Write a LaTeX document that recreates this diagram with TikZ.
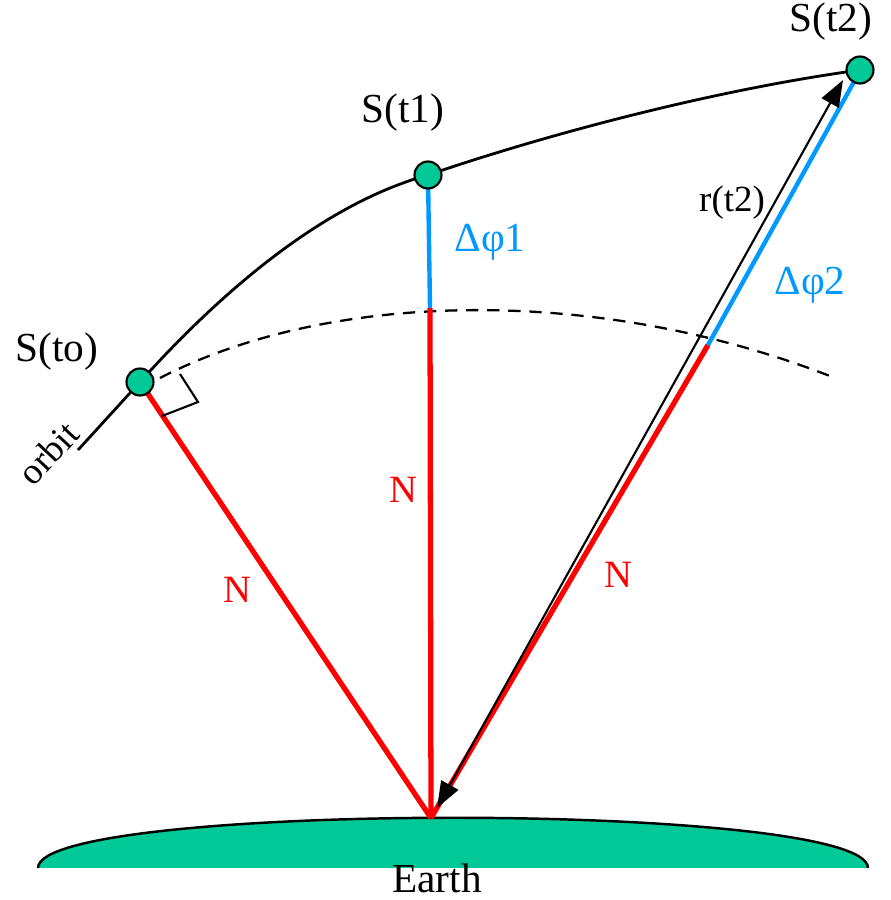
\documentclass[tikz,border=0pt]{standalone}
\usepackage{fontspec}
\setmainfont{Liberation Serif}
\usetikzlibrary{arrows.meta,calc}
\definecolor{earthgreen}{RGB}{0,200,150}
\definecolor{phiblue}{RGB}{0,153,255}
\definecolor{nred}{RGB}{255,0,0}
\newlength{\unitpx}
\setlength{\unitpx}{0.02cm}
\tikzset{
  sat/.style={circle,draw=black,fill=earthgreen,line width=1.2pt,minimum size=27\unitpx,inner sep=0pt},
  orbitline/.style={line width=1.6pt,black},
  nline/.style={line width=3pt,nred},
  philine/.style={line width=2.5pt,phiblue},
  lbl/.style={font=\fontsize{23.5}{28}\selectfont,inner sep=0pt},
  smalllbl/.style={font=\fontsize{21}{25}\selectfont,inner sep=0pt},
  nlbl/.style={font=\fontsize{22}{26}\selectfont,inner sep=0pt,text=nred},
  philbl/.style={font=\fontsize{23.5}{28}\selectfont,inner sep=0pt,text=phiblue},
}
\begin{document}
\begin{tikzpicture}[x=0.02cm,y=-0.02cm]
\useasboundingbox (0,0) rectangle (891,900);
% Earth
\fill[earthgreen] (38,868) .. controls (38,801) and (868,801) .. (868,868) -- cycle;
\draw[line width=1.4pt] (38,868) .. controls (38,801) and (868,801) .. (868,868);
\coordinate (e) at (431,818);
% dashed curve
\draw[line width=1.3pt,dash pattern=on 7pt off 5pt] (160,378) .. controls (330,290) and (600,285) .. (835,378);
% satellites positions
\coordinate (c0) at (140,382);
\coordinate (c1) at (428,175);
\coordinate (c2) at (860,70);
\coordinate (tail) at (78,450);
% orbit
\draw[orbitline] (tail) -- (c0) .. controls (230,282) and (330,202) .. (c1) .. controls (530,140) and (700,92) .. (c2);
% break points
\coordinate (d1) at (430,308);
\coordinate (d2) at (708,345);
\coordinate (b2) at (855,80);
% N and phi lines
\draw[nline] (d1) -- (e);
\draw[nline] (d2) -- (e);
\draw[nline] (c0) -- (e);
\draw[philine] (c1) -- (d1);
\draw[philine] (b2) -- (d2);
% arrow r(t2)
\coordinate (a1) at (437,808);
\coordinate (a2) at (843,80);
\draw[line width=1.2pt,{Triangle[length=15pt,width=11pt]}-{Triangle[length=15pt,width=11pt]}] (a1) -- (a2);
% right angle marker
\draw[line width=1.2pt] (180,374) -- (198,402) -- (162,416);
% satellites
\node[sat] (s0) at (c0) {};
\node[sat] (s1) at (c1) {};
\node[sat] (s2) at (c2) {};
% labels
\node[lbl] (l0) at (57,352) {S(to)};
\node[lbl] (l1) at (403,113) {S(t1)};
\node[lbl] (l2) at (831,22) {S(t2)};
\node[philbl] (p1) at (490,242) {Δφ1};
\node[philbl] (p2) at (810,285) {Δφ2};
\node[smalllbl] (r2) at (732,203) {r(t2)};
\node[nlbl] (n1) at (403,490) {N};
\node[nlbl] (n2) at (237,590) {N};
\node[nlbl] (n3) at (618,575) {N};
\node[smalllbl,rotate=47] (ob) at (48,453) {orbit};
\node[lbl] (ea) at (437,878) {Earth};
\end{tikzpicture}
\end{document}
